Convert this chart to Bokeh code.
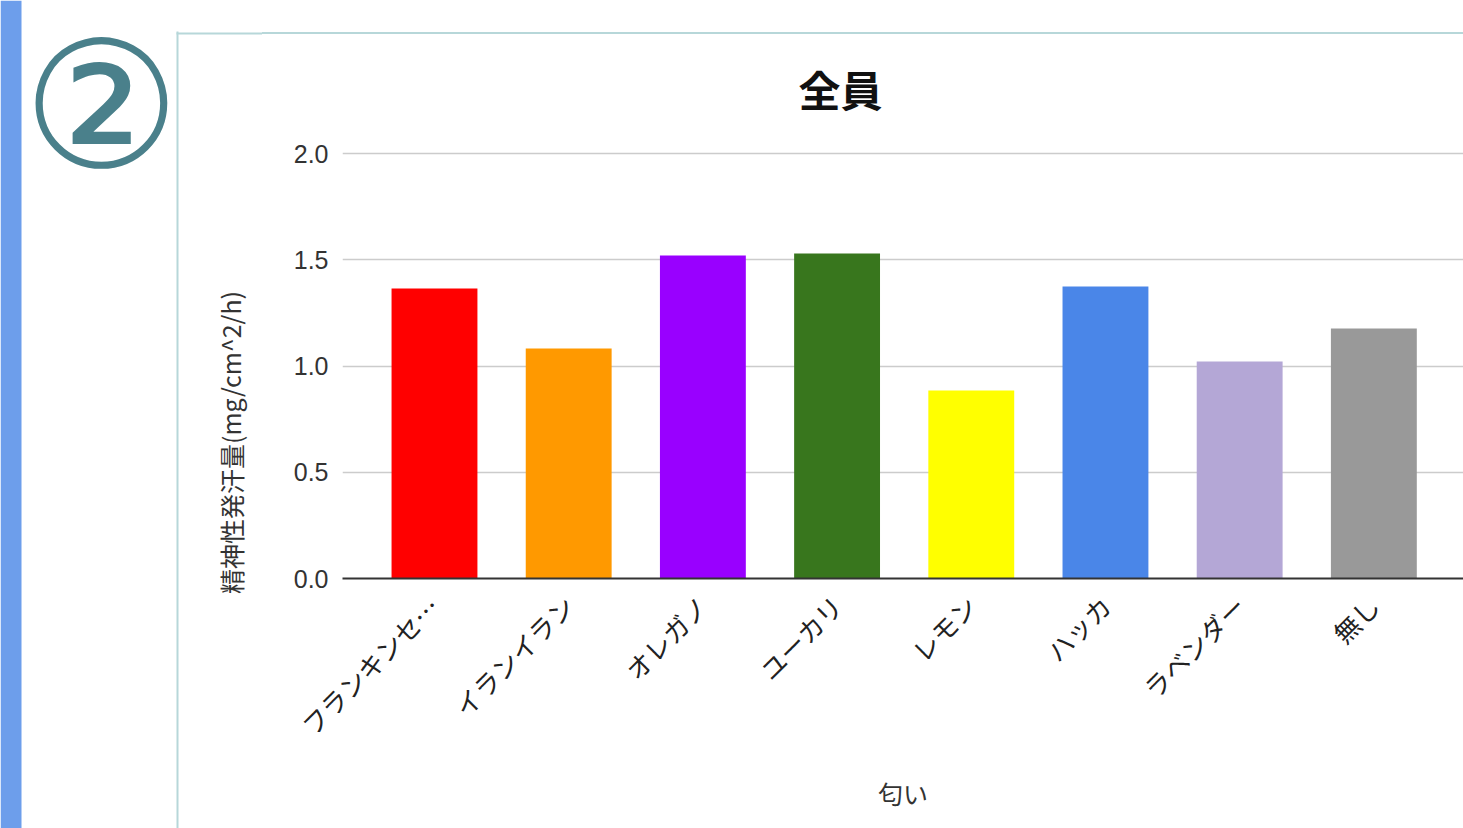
from bokeh.plotting import figure
from bokeh.layouts import row, column
from bokeh.models import Range1d, FixedTicker, NumeralTickFormatter, Div
from bokeh.core.properties import value
from bokeh.embed import file_html
from bokeh.resources import INLINE

# ---- data ----
categories = ["フランキンセ…", "イランイラン", "オレガノ", "ユーカリ", "レモン", "ハッカ", "ラベンダー", "無し"]
values = [1.365, 1.082, 1.52, 1.53, 0.885, 1.374, 1.021, 1.176]
colors = ["#ff0000", "#ff9900", "#9900ff", "#38761d", "#ffff00", "#4a86e8", "#b4a7d6", "#999999"]
y_ticks = [0.0, 0.5, 1.0, 1.5, 2.0]
title_text = "全員"
x_title = "匂い"
y_title = "精神性発汗量(mg/cm^2/h)"
badge_text = "②"

CJK = "Noto Sans CJK JP"
LAT = "Liberation Sans"
BORDER = "#b7d7d9"
LEFT_W = 262

def blank(w, h):
    f = figure(width=w, height=h, x_range=Range1d(0, w), y_range=Range1d(h, 0),
               x_axis_type=None, y_axis_type=None, output_backend="svg",
               toolbar_location=None, min_border=0)
    f.outline_line_color = None
    f.grid.visible = False
    f.background_fill_color = "white"
    f.border_fill_color = "white"
    return f

# left area: strip, badge, panel border corner and the y-axis title
left = blank(LEFT_W, 828)
left.quad(left=0, right=21, top=0, bottom=828, fill_color="#6d9eeb", line_color=None)
left.segment(x0=[177, 176], y0=[31, 33], x1=[177, LEFT_W], y1=[828, 33],
             line_color=BORDER, line_width=2)
left.text(x=[101], y=[106], text=[badge_text], text_font=value("DejaVu Sans"), text_font_size="176px",
          text_color="#4a808b", text_align="center", text_baseline="middle")
left.text(x=[230], y=[442], text=[y_title], angle=1.5708, text_font=value(CJK),
          text_font_size="25px", text_color="#333333", text_align="center", text_baseline="middle")

# top border line of the chart panel
top = Div(text="", width=1463 - LEFT_W, height=34, margin=0,
          styles={"border-bottom": "2px solid " + BORDER, "box-sizing": "border-box"})

xs = list(range(len(categories)))

p = figure(width=1463 - LEFT_W, height=794, output_backend="svg", toolbar_location=None,
           x_range=Range1d(-0.6855, 7.668), y_range=Range1d(0, 2.0612),
           min_border_left=342 - LEFT_W, min_border_right=0, min_border_top=106, min_border_bottom=250)
p.outline_line_color = None
p.background_fill_color = "white"
p.border_fill_color = "white"

p.title.text = title_text
p.title.align = "left"
p.title.offset = 456
p.title.standoff = 43
p.title.text_font = CJK
p.title.text_font_size = "42px"
p.title.text_font_style = "bold"
p.title.text_color = "#111111"

p.vbar(x=xs, top=values, width=0.64, bottom=0, color=colors, line_color=None)

# y axis
p.yaxis.ticker = FixedTicker(ticks=y_ticks)
p.yaxis.formatter = NumeralTickFormatter(format="0.0")
p.yaxis.axis_line_color = None
p.yaxis.major_tick_line_color = None
p.yaxis.minor_tick_line_color = None
p.yaxis.major_label_standoff = 8
p.yaxis.major_label_text_font = LAT
p.yaxis.major_label_text_font_size = "25px"
p.yaxis.major_label_text_color = "#333333"

# x axis
p.xaxis.ticker = FixedTicker(ticks=xs)
p.xaxis.major_label_overrides = {i: c for i, c in zip(xs, categories)}
p.xaxis.major_label_orientation = 0.7854
p.xaxis.axis_line_color = "#333333"
p.xaxis.axis_line_width = 2
p.xaxis.major_tick_line_color = None
p.xaxis.minor_tick_line_color = None
p.xaxis.major_label_standoff = 16
p.xaxis.major_label_text_font = CJK
p.xaxis.major_label_text_font_size = "26px"
p.xaxis.major_label_text_color = "#222222"
p.xaxis.axis_label = x_title
p.xaxis.axis_label_text_font = CJK
p.xaxis.axis_label_text_font_size = "25px"
p.xaxis.axis_label_text_font_style = "normal"
p.xaxis.axis_label_text_color = "#333333"
p.xaxis.axis_label_standoff = 17

p.xgrid.grid_line_color = None
p.ygrid.grid_line_color = "#cccccc"
p.ygrid.grid_line_width = 1.5

layout = row(left, column(top, p, spacing=0), spacing=0)
open("out.html", "w").write(file_html(layout, INLINE))
